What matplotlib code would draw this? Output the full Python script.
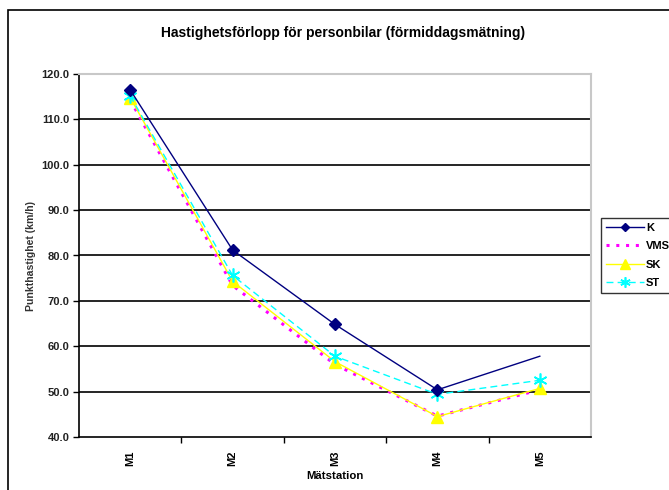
import matplotlib.pyplot as plt
from matplotlib.patches import Rectangle

stations = ['M1', 'M2', 'M3', 'M4', 'M5']
k_speed = [116.5, 81.2, 64.8, 50.4, 57.8]
vms_speed = [114.3, 73.4, 56.0, 44.6, 50.4]
sk_speed = [114.8, 74.3, 56.6, 44.5, 50.7]
st_speed = [115.2, 75.6, 57.8, 49.4, 52.5]
yticks = [40, 50, 60, 70, 80, 90, 100, 110, 120]

plt.rcParams['font.family'] = ['Liberation Sans', 'DejaVu Sans']

fig = plt.figure(figsize=(6.69, 4.9), dpi=100)
ax = fig.add_axes([79 / 669, 1 - 437 / 490, 512 / 669, 363 / 490])

# outer chart frame
fig.patches.append(Rectangle((8 / 669, -0.05), 1.0, 1 - 10 / 490 + 0.05,
                             transform=fig.transFigure, fill=False,
                             edgecolor='black', linewidth=1.2))

x = list(range(1, len(stations) + 1))

ax.plot(x, k_speed, color='#000080', linewidth=1, marker='D', markersize=6,
        markevery=[0, 1, 2, 3], label='K', zorder=5)
ax.plot(x, vms_speed, color='#FF00FF', linewidth=2.2, linestyle=(0, (1, 2.2)),
        label='VMS', zorder=4)
ax.plot(x, sk_speed, color='#FFFF00', linewidth=1, marker='^', markersize=9,
        label='SK', zorder=4)
ax.plot(x, st_speed, color='#00FFFF', linewidth=1, linestyle=(0, (5, 3)),
        marker=(6, 2, 0), markersize=10, markeredgewidth=1.2, label='ST', zorder=4)

ax.set_xlim(0.5, 5.5)
ax.set_ylim(40, 120)
ax.set_yticks(yticks)
ax.set_yticklabels([f'{v:.1f}' for v in yticks], fontsize=8, fontweight='bold',
                   color='#222222')
ax.set_xticks(x)
ax.set_xticklabels(stations, rotation=90, fontsize=8, fontweight='bold')
ax.set_xticks([1.5, 2.5, 3.5, 4.5], minor=True)
ax.tick_params(axis='x', which='major', length=0, pad=10)
ax.tick_params(axis='x', which='minor', length=4, width=1, direction='out')
ax.tick_params(axis='y', length=4, width=1, direction='out', pad=3)

for v in yticks[1:-1]:
    ax.axhline(v, color='black', linewidth=1.2, zorder=1)

for side in ['top', 'right']:
    ax.spines[side].set_color('#c8c8c8')
    ax.spines[side].set_linewidth(1.5)
for side in ['left', 'bottom']:
    ax.spines[side].set_color('black')
    ax.spines[side].set_linewidth(1.2)

ax.set_xlabel('Mätstation', fontsize=8.2, fontweight='bold', labelpad=3)
ax.set_ylabel('Punkthastighet (km/h)', fontsize=7.6, fontweight='bold',
              labelpad=4, color='#333333')
fig.text(343 / 669, 1 - 33 / 490, 'Hastighetsförlopp för personbilar (förmiddagsmätning)',
         ha='center', va='center', fontsize=10, fontweight='bold')

leg = ax.legend(loc='upper left', bbox_to_anchor=(601 / 669, 1 - 218 / 490),
                bbox_transform=fig.transFigure, frameon=True, fancybox=False,
                prop={'weight': 'bold', 'size': 8}, handlelength=3.4,
                handletextpad=0.2, borderpad=0.45, labelspacing=0.75,
                markerscale=0.75, borderaxespad=0)
leg.get_frame().set_edgecolor('black')
leg.get_frame().set_linewidth(1)

fig.savefig('out.png', dpi=100)
